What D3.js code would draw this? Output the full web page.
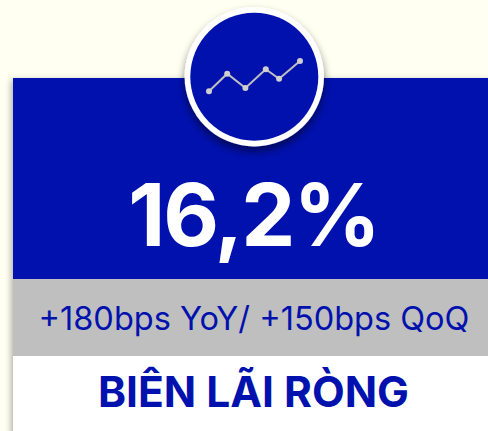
<!DOCTYPE html>
<html>
<head>
<meta charset="utf-8">
<script src="https://cdnjs.cloudflare.com/ajax/libs/d3/7.8.5/d3.min.js"></script>
<style>
  html, body { margin: 0; padding: 0; background: #fffff2; overflow: hidden; }
  text { font-family: Inter, sans-serif; }
</style>
</head>
<body>
<svg id="chart"></svg>
<script>
const iconX = [0, 1, 2, 3.12, 3.85, 5];
const iconY = [0, 17.6, 3.3, 22, 12.6, 30.3];
const headline = "16,2%";
const subline = "+180bps YoY/ +150bps QoQ";
const title = "BIÊN LÃI RÒNG";

const width = 488, height = 431;
const blue = "#0011ae";
const grey = "#bfbfbf";

const svg = d3.select("#chart").attr("width", width).attr("height", height);
const defs = svg.append("defs");

const cardShadow = defs.append("filter").attr("id", "card-shadow")
    .attr("x", "-10%").attr("y", "-10%").attr("width", "120%").attr("height", "120%");
cardShadow.append("feDropShadow")
    .attr("dx", -2).attr("dy", 2).attr("stdDeviation", 3)
    .attr("flood-color", "#000").attr("flood-opacity", 0.3);

const circleShadow = defs.append("filter").attr("id", "circle-shadow")
    .attr("x", "-20%").attr("y", "-20%").attr("width", "140%").attr("height", "140%");
circleShadow.append("feDropShadow")
    .attr("dx", 0).attr("dy", 5).attr("stdDeviation", 4)
    .attr("flood-color", "#000").attr("flood-opacity", 0.5);

// card
svg.append("rect").attr("x", 13).attr("y", 78).attr("width", 480).attr("height", 360)
    .attr("fill", "#fff").attr("filter", "url(#card-shadow)");
svg.append("rect").attr("x", 13).attr("y", 78).attr("width", 475).attr("height", 201).attr("fill", blue);
svg.append("rect").attr("x", 13).attr("y", 279).attr("width", 475).attr("height", 77).attr("fill", grey);

// badge
svg.append("circle").attr("cx", 254.3).attr("cy", 76.7).attr("r", 69.7)
    .attr("fill", "#fff").attr("filter", "url(#circle-shadow)");
svg.append("circle").attr("cx", 254.3).attr("cy", 76.7).attr("r", 64).attr("fill", blue);

const x = d3.scaleLinear().domain([0, 5]).range([209, 300]);
const y = d3.scaleLinear().domain([0, 30.3]).range([91.3, 61]);
const iconData = d3.zip(iconX, iconY);

svg.append("path")
    .datum(iconData)
    .attr("fill", "none")
    .attr("stroke", grey)
    .attr("stroke-width", 2)
    .attr("d", d3.line().x(d => x(d[0])).y(d => y(d[1])));

svg.selectAll(".icon-dot")
    .data(iconData)
    .enter()
    .append("circle")
    .attr("class", "icon-dot")
    .attr("cx", d => x(d[0]))
    .attr("cy", d => y(d[1]))
    .attr("r", 3)
    .attr("fill", "#cfcfcf");

// texts
svg.append("text")
    .attr("x", 253.5).attr("y", 246)
    .attr("text-anchor", "middle")
    .attr("fill", "#fff")
    .style("font-size", "86px")
    .style("font-weight", 700)
    .style("letter-spacing", "-2px")
    .text(headline);

svg.append("text")
    .attr("x", 254).attr("y", 330)
    .attr("text-anchor", "middle")
    .attr("fill", blue)
    .style("font-size", "32.5px")
    .text(subline);

svg.append("text")
    .attr("x", 253.5).attr("y", 407)
    .attr("text-anchor", "middle")
    .attr("fill", blue)
    .style("font-size", "42.5px")
    .style("font-weight", 700)
    .text(title);
</script>
</body>
</html>
